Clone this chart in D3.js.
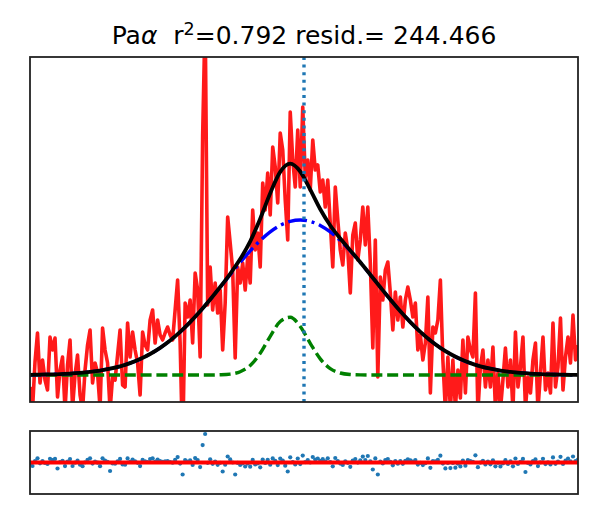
<!DOCTYPE html>
<html>
<head>
<meta charset="utf-8">
<script src="https://cdnjs.cloudflare.com/ajax/libs/d3/7.8.5/d3.min.js"></script>
<style>
    body { margin: 0; background: #fff; }
    text { font-family: "DejaVu Sans", sans-serif; }
</style>
</head>
<body>
<div id="fit-chart"></div>
<script>

// Observed spectrum, one value per channel (continuum subtracted)
const fluxObs = [
    -1.2, -3.5, 1.3, 4.2, -0.8, 1.5, -0.5, -1.5, 3.8, 2.5,
    3.7, -2.2, 0.5, 1.8, -3.5, 1.0, 3.5, -3.3, 0.0, 2.0,
    -2.0, -3.5, 0.5, 3.0, 4.5, -0.8, 1.2, 0.2, -3.3, 4.7,
    2.5, 1.2, -3.5, -0.2, -0.5, 2.0, 4.5, -1.0, -1.2, 5.2,
    1.8, 4.3, 2.5, 1.2, -2.0, 4.3, 3.0, 2.5, 5.5, 6.5,
    3.2, 5.5, 4.0, 3.5, 4.2, 4.8, 4.0, 3.5, 6.5, 9.5,
    3.2, -7.5, 7.2, 5.8, 7.5, 3.2, 10.2, 8.5, 1.8, 24.0,
    36.0, 7.0, 10.8, 6.5, 9.2, 6.2, 8.5, 2.5, 7.2, 15.8,
    13.2, 10.5, 1.7, 10.8, 9.2, 11.2, 8.5, 11.8, 9.2, 16.5,
    12.5, 14.2, 10.8, 19.2, 16.5, 20.2, 16.0, 22.8, 20.8, 17.2,
    24.2, 22.5, 17.5, 13.5, 26.3, 21.5, 18.8, 24.5, 18.8, 26.8,
    19.8, 21.5, 18.5, 23.5, 20.5, 21.0, 18.3, 19.5, 16.8, 19.5,
    15.2, 10.8, 18.8, 15.5, 12.5, 11.0, 14.2, 12.5, 8.2, 14.0,
    15.2, 11.5, 13.5, 16.8, 13.0, 16.8, 11.2, 2.7, 13.5, -0.2,
    9.8, 7.5, 10.5, 11.3, 8.2, 4.5, 8.3, 5.5, 7.8, 4.8,
    7.5, 8.8, 7.5, 5.8, 7.2, 2.5, 4.0, 1.5, 3.2, 7.8,
    -1.8, 4.8, 4.2, 5.5, 9.5, 1.5, -3.5, 1.8, -3.5, 1.5,
    -3.3, 0.5, -2.3, 3.5, -1.8, 3.8, 2.5, 1.8, 8.2, -3.7,
    0.8, 2.5, -1.2, 1.5, -1.2, 2.8, -3.3, 0.2, -3.5, -0.5,
    2.7, -1.2, 1.5, -3.5, 4.3, -1.2, 0.8, 3.8, -3.3, -0.2,
    -1.8, 1.5, 3.2, -3.5, 0.2, 3.8, -1.5, 0.2, -1.8, 5.2,
    -1.2, 0.8, 5.7, -1.5, 1.8, 3.8, 1.2, 6.0, 1.5, 3.0
];

// Channels where the fitted components are sampled
const fitChannels = [
    0, 4, 8, 12, 16, 20, 24, 28, 32, 36, 40, 44, 48, 52, 56, 60, 64, 68, 72, 76,
    80, 84, 88, 92, 96, 100, 104, 108, 112, 116, 120, 124, 128, 132, 136, 140, 144, 148, 152, 156,
    160, 164, 168, 172, 176, 180, 184, 188, 192, 196, 200, 204, 208, 212, 216, 219
];

// broad component (blue dash-dot)
const fitBroad = [
    0.02, 0.04, 0.06, 0.09, 0.14, 0.21, 0.31, 0.44, 0.63, 0.87,
    1.19, 1.59, 2.10, 2.72, 3.45, 4.31, 5.29, 6.37, 7.55, 8.78,
    10.03, 11.26, 12.41, 13.45, 14.31, 14.96, 15.36, 15.50, 15.36, 14.96,
    14.31, 13.45, 12.41, 11.26, 10.03, 8.78, 7.55, 6.37, 5.29, 4.31,
    3.45, 2.72, 2.10, 1.59, 1.19, 0.87, 0.63, 0.44, 0.31, 0.21,
    0.14, 0.09, 0.06, 0.04, 0.02, 0.02
];

// narrow component (green dashed)
const fitNarrow = [
    0, 0, 0, 0, 0, 0, 0, 0, 0, 0,
    0, 0, 0, 0, 0, 0, 0, 0, 0.00, 0.02,
    0.09, 0.33, 0.95, 2.18, 3.87, 5.35, 5.77, 4.85, 3.17, 1.61,
    0.64, 0.20, 0.05, 0.01, 0, 0, 0, 0, 0, 0,
    0, 0, 0, 0, 0, 0, 0, 0, 0, 0,
    0, 0, 0, 0, 0, 0
];

// total model (black)
const fitTotal = [
    0.02, 0.04, 0.06, 0.09, 0.14, 0.21, 0.31, 0.44, 0.63, 0.87,
    1.19, 1.59, 2.10, 2.72, 3.45, 4.31, 5.29, 6.37, 7.55, 8.80,
    10.12, 11.59, 13.36, 15.63, 18.18, 20.31, 21.13, 20.35, 18.53, 16.57,
    14.95, 13.65, 12.46, 11.27, 10.03, 8.78, 7.55, 6.37, 5.29, 4.31,
    3.45, 2.72, 2.10, 1.59, 1.19, 0.87, 0.63, 0.44, 0.31, 0.21,
    0.14, 0.09, 0.06, 0.04, 0.02, 0.02
];

// data - model, per channel
const residuals = [
    -1.2, -3.5, 1.3, 4.2, -0.8, 1.5, -0.5, -1.5, 3.7, 2.4,
    3.6, -6.0, 0.4, 1.7, -3.6, 0.9, 3.4, -3.5, -0.2, 1.8,
    -2.2, -3.7, 0.2, 2.7, 4.2, -1.1, 0.8, -0.2, -3.7, 4.2,
    2.0, 0.6, -8.5, -0.9, -1.2, 1.2, 3.6, -1.9, -2.2, 4.1,
    0.6, 3.0, 1.1, -0.3, -3.6, 2.6, 1.2, 0.5, 3.4, 4.2,
    0.8, 2.9, 1.3, 0.6, 1.1, 1.5, 0.5, -0.2, 2.6, 5.4,
    -1.1, -12.0, 2.4, 0.8, 2.2, -2.4, 4.4, 2.4, -4.6, 17.4,
    28.5, -0.3, 3.2, -1.3, 1.0, -2.3, -0.3, -9.0, -2.2, 6.0,
    3.1, 0.0, -12.0, -0.4, -2.4, -0.8, -4.0, -1.1, -4.2, 2.6,
    -2.0, -0.9, -4.8, 2.9, -0.4, 2.7, -2.2, 4.1, 1.6, -2.6,
    3.9, 2.0, -3.2, -9.0, 5.2, 0.5, -2.0, 4.0, -1.6, 6.9,
    0.4, 2.5, 0.0, 5.5, 3.0, 4.0, 1.7, 3.3, 1.1, 4.2,
    0.3, -3.8, 4.5, 1.5, -1.1, -2.4, 1.2, -0.3, -4.3, 1.9,
    3.4, -0.1, 2.2, 5.9, 2.4, 6.5, 1.2, -7.0, 4.1, -12.0,
    1.0, -1.0, 2.4, 3.5, 0.7, -2.8, 1.4, -1.2, 1.4, -1.3,
    1.7, 3.2, 2.2, 0.8, 2.4, -2.1, -0.3, -2.6, -0.7, 4.1,
    -5.3, 1.5, 1.1, 2.6, 6.8, -1.1, -5.9, -0.5, -5.6, -0.5,
    -5.2, -1.2, -3.9, 2.0, -3.2, 2.5, 1.3, 0.7, 7.2, -4.7,
    -0.1, 1.7, -2.0, 0.8, -1.8, 2.2, -3.8, -0.3, -3.9, -0.9,
    2.3, -1.5, 1.2, -3.8, 4.0, -1.4, 0.6, 3.6, -9.5, -0.4,
    -1.9, 1.4, 3.1, -3.6, 0.1, 3.7, -1.6, 0.1, -1.9, 5.1,
    -1.3, 0.8, 5.7, -1.5, 1.8, 3.8, 1.2, 6.0, 1.5, 3.0
];

// rest wavelength of the line, in channels
const lineCenter = 109.5;

const titleLine = "Pa";
const titleStats = { r2: "0.792", resid: "244.466" };


class cFitChart {

    constructor(_parentElement) {
        this.parentElement = _parentElement;
        this.initVis();
    }

    initVis() {
        let vis = this;

        vis.width = 600;
        vis.height = 525;

        vis.main = { left: 30, right: 578, top: 57, bottom: 402 };
        vis.res = { top: 431, bottom: 494 };

        vis.svg = d3.select("#" + vis.parentElement).append("svg")
            .attr("width", vis.width)
            .attr("height", vis.height);

        // Scales
        vis.x = d3.scaleLinear()
            .domain([0, fluxObs.length - 1])
            .range([vis.main.left, vis.main.right]);

        vis.y = d3.scaleLinear()
            .domain([-2.7, 31.8])
            .range([vis.main.bottom, vis.main.top]);

        vis.yRes = d3.scaleLinear()
            .domain([-31.5, 31.5])
            .range([vis.res.bottom, vis.res.top]);

        vis.svg.append("clipPath").attr("id", "clip-main")
            .append("rect")
            .attr("x", vis.main.left).attr("y", vis.main.top)
            .attr("width", vis.main.right - vis.main.left)
            .attr("height", vis.main.bottom - vis.main.top);

        vis.svg.append("clipPath").attr("id", "clip-res")
            .append("rect")
            .attr("x", vis.main.left).attr("y", vis.res.top)
            .attr("width", vis.main.right - vis.main.left)
            .attr("height", vis.res.bottom - vis.res.top);

        vis.wrangleData();
    }

    wrangleData() {
        let vis = this;

        vis.obsData = fluxObs.map((v, i) => ({ c: i, v: v }));
        vis.resData = residuals.map((v, i) => ({ c: i, v: v }));
        vis.broadData = fitChannels.map((c, i) => ({ c: c, v: fitBroad[i] }));
        vis.narrowData = fitChannels.map((c, i) => ({ c: c, v: fitNarrow[i] }));
        vis.totalData = fitChannels.map((c, i) => ({ c: c, v: fitTotal[i] }));

        vis.updateVis();
    }

    updateVis() {
        let vis = this;

        let obsLine = d3.line()
            .x(d => vis.x(d.c))
            .y(d => vis.y(d.v));

        let fitLine = d3.line()
            .x(d => vis.x(d.c))
            .y(d => vis.y(d.v))
            .curve(d3.curveMonotoneX);

        let g = vis.svg.append("g").attr("clip-path", "url(#clip-main)");

        g.append("path")
            .datum(vis.obsData)
            .attr("d", obsLine)
            .attr("fill", "none")
            .attr("stroke", "#ff1a1a")
            .attr("stroke-width", 3.6)
            .attr("stroke-linejoin", "round");

        g.append("path")
            .datum(vis.narrowData)
            .attr("d", fitLine)
            .attr("fill", "none")
            .attr("stroke", "#008000")
            .attr("stroke-width", 3.4)
            .attr("stroke-dasharray", "11,4.8");

        g.append("path")
            .datum(vis.broadData)
            .attr("d", fitLine)
            .attr("fill", "none")
            .attr("stroke", "#0000ff")
            .attr("stroke-width", 3.4)
            .attr("stroke-dasharray", "19,4.8,3,4.8");

        g.append("path")
            .datum(vis.totalData)
            .attr("d", fitLine)
            .attr("fill", "none")
            .attr("stroke", "#000")
            .attr("stroke-width", 3.8);

        // rest wavelength marker
        g.append("line")
            .attr("x1", vis.x(lineCenter)).attr("x2", vis.x(lineCenter))
            .attr("y1", vis.main.top).attr("y2", vis.main.bottom)
            .attr("stroke", "#1f77b4")
            .attr("stroke-width", 3.4)
            .attr("stroke-dasharray", "3,4.6");

        // Residual panel
        let gr = vis.svg.append("g").attr("clip-path", "url(#clip-res)");

        gr.selectAll(".res-dot")
            .data(vis.resData)
            .enter().append("circle")
            .attr("class", "res-dot")
            .attr("cx", d => vis.x(d.c))
            .attr("cy", d => vis.yRes(d.v))
            .attr("r", 2.1)
            .attr("fill", "#1f77b4");

        gr.append("line")
            .attr("x1", vis.main.left).attr("x2", vis.main.right)
            .attr("y1", vis.yRes(0)).attr("y2", vis.yRes(0))
            .attr("stroke", "#ff0000")
            .attr("stroke-width", 4);

        // Frames
        vis.svg.append("rect")
            .attr("x", vis.main.left).attr("y", vis.main.top)
            .attr("width", vis.main.right - vis.main.left)
            .attr("height", vis.main.bottom - vis.main.top)
            .attr("fill", "none").attr("stroke", "#222").attr("stroke-width", 1.8);

        vis.svg.append("rect")
            .attr("x", vis.main.left).attr("y", vis.res.top)
            .attr("width", vis.main.right - vis.main.left)
            .attr("height", vis.res.bottom - vis.res.top)
            .attr("fill", "none").attr("stroke", "#222").attr("stroke-width", 1.8);

        // Title
        let title = vis.svg.append("text")
            .attr("x", (vis.main.left + vis.main.right) / 2)
            .attr("y", 44)
            .attr("text-anchor", "middle")
            .attr("font-size", 25)
            .attr("fill", "#000")
            .style("white-space", "pre");

        title.append("tspan").text(titleLine);
        title.append("tspan").attr("font-style", "italic").text("\u03b1");
        title.append("tspan").text("  r");
        title.append("tspan").attr("font-size", 17.5).attr("dy", -9.5).text("2");
        title.append("tspan").attr("dy", 9.5)
            .text("=" + titleStats.r2 + " resid.= " + titleStats.resid);
    }
}

new cFitChart("fit-chart");

</script>
</body>
</html>
